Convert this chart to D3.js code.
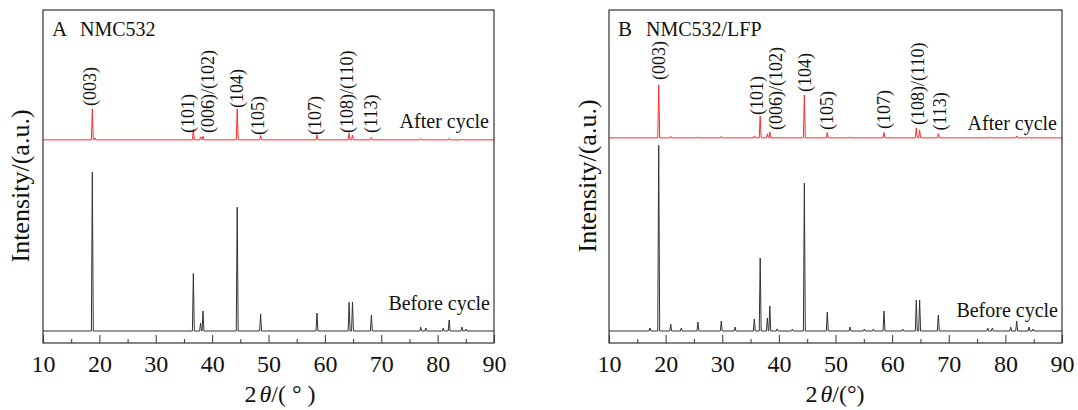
<!DOCTYPE html>
<html>
<head>
<meta charset="utf-8">
<script src="https://cdn.jsdelivr.net/npm/d3@7"></script>
<style>
  body { margin: 0; background: #fff; }
  svg text { font-family: "Liberation Serif", "Times New Roman", serif; fill: #111; }
</style>
</head>
<body>
<div id="chart"></div>
<script>
// peak lists: [2theta, intensity (a.u.)]
const nmcBefore = [
  [18.75, 47.7], [36.67, 17.3], [37.95, 2.4], [38.38, 6.0], [44.45, 37.2],
  [48.6, 5.1], [58.6, 5.4], [64.3, 8.6], [64.9, 8.7], [68.25, 4.8],
  [77.0, 1.2], [77.9, 0.9], [81.0, 0.9], [82.05, 3.3], [84.3, 1.2], [85.0, 0.6]
];
const nmcAfter = [
  [18.75, 9.3], [19.25, 0.6], [36.67, 3.2], [37.95, 0.9], [38.38, 1.1],
  [44.45, 9.3], [48.6, 1.3], [58.6, 1.5], [64.3, 2.0], [64.9, 1.5],
  [68.25, 0.75], [77.0, 0.4], [82.05, 0.45], [84.3, 0.3]
];
const lfpBefore = [
  [17.24, 0.9], [18.78, 55.8], [20.9, 2.1], [22.77, 0.9], [25.7, 2.7],
  [29.83, 3.0], [32.25, 1.2], [35.66, 3.6], [36.7, 21.9], [37.97, 3.9],
  [38.4, 7.5], [39.7, 0.6], [42.4, 0.6], [44.5, 44.4], [48.55, 5.7],
  [52.56, 1.2], [55.1, 0.6], [56.7, 0.6], [58.56, 6.0], [61.86, 0.6],
  [64.27, 9.3], [64.86, 9.3], [68.16, 4.8], [76.88, 0.9], [77.7, 0.9],
  [80.94, 1.2], [82.0, 3.0], [84.17, 1.2], [84.9, 0.6]
];
const lfpAfter = [
  [18.78, 15.9], [20.9, 0.45], [25.7, 0.3], [29.83, 0.45], [35.66, 0.6],
  [36.7, 6.6], [37.97, 1.2], [38.4, 1.8], [44.5, 12.9], [48.55, 1.65],
  [52.56, 0.3], [58.56, 1.65], [64.27, 3.0], [64.86, 2.4], [68.16, 1.3],
  [77.3, 0.3], [82.0, 0.6], [84.17, 0.3]
];

// offsets of the two stacked patterns
const nmcOffsets = { before: 3.6, after: 61.0 };
const lfpOffsets = { before: 3.6, after: 61.6 };

const hklLabels = ["(003)", "(101)", "(006)/(102)", "(104)", "(105)", "(107)", "(108)/(110)", "(113)"];
const nmcLabelPos = [[18.34, 71.2], [35.7, 63.1], [39.27, 63.1], [44.4, 70.6], [48.1, 62.5], [58.2, 62.5], [63.9, 63.1], [68.1, 63.1]];
const lfpLabelPos = [[18.78, 79.0], [36.08, 68.5], [39.5, 64.0], [44.6, 75.4], [48.45, 64.0], [58.57, 64.3], [64.6, 65.5], [68.45, 63.8]];

const majorTicks = [10, 20, 30, 40, 50, 60, 70, 80, 90];
const minorTicks = [15, 25, 35, 45, 55, 65, 75, 85];

const width = 1078, height = 410;
const svg = d3.select("#chart").append("svg")
  .attr("width", width)
  .attr("height", height);

// turn a peak list into a stick-like profile
function profile(peaks, base) {
  const pts = [[10, base]];
  peaks.forEach(p => {
    pts.push([p[0] - 0.17, base]);
    pts.push([p[0], base + p[1]]);
    pts.push([p[0] + 0.17, base]);
  });
  pts.push([90, base]);
  return pts;
}

function drawPanel(cfg) {
  const x = d3.scaleLinear().domain([10, 90]).range([cfg.left, cfg.right]);
  const y = d3.scaleLinear().domain([0, 100]).range([cfg.bottom, cfg.top]);
  const g = svg.append("g");

  const line = d3.line().x(d => x(d[0])).y(d => y(d[1]));

  g.append("path")
    .datum(profile(cfg.before, cfg.offsets.before))
    .attr("d", line)
    .attr("fill", "none")
    .attr("stroke", "#333")
    .attr("stroke-width", 1);

  g.append("path")
    .datum(profile(cfg.after, cfg.offsets.after))
    .attr("d", line)
    .attr("fill", "none")
    .attr("stroke", "#ff2b2b")
    .attr("stroke-width", 1);

  //frame
  g.append("rect")
    .attr("x", cfg.left)
    .attr("y", cfg.top)
    .attr("width", cfg.right - cfg.left)
    .attr("height", cfg.bottom - cfg.top)
    .attr("fill", "none")
    .attr("stroke", "#333")
    .attr("stroke-width", 1.2);

  //x axis, ticks pointing inward
  const xAxis = d3.axisBottom(x).tickValues(majorTicks).tickSize(-8).tickPadding(12).tickFormat(d3.format("d"));
  const ax = g.append("g")
    .attr("transform", `translate(0, ${cfg.bottom})`)
    .call(xAxis);
  ax.select(".domain").remove();
  ax.selectAll("line").attr("stroke", "#333");
  ax.selectAll("text").attr("font-size", 24).attr("fill", "#111");

  const mx = g.append("g")
    .attr("transform", `translate(0, ${cfg.bottom})`)
    .call(d3.axisBottom(x).tickValues(minorTicks).tickSize(-4).tickFormat(""));
  mx.select(".domain").remove();
  mx.selectAll("line").attr("stroke", "#333");

  //x title
  const xt = g.append("text")
    .attr("x", cfg.xTitleX)
    .attr("y", 402)
    .attr("text-anchor", "middle")
    .attr("font-size", 24);
  xt.append("tspan").text("2");
  xt.append("tspan").attr("font-style", "italic").attr("dx", 3).text("θ");
  xt.append("tspan").text(cfg.degText);

  //y title
  g.append("text")
    .attr("transform", `translate(${cfg.yTitleX}, ${cfg.yTitleY}) rotate(-90)`)
    .attr("text-anchor", "middle")
    .attr("dy", "0.35em")
    .attr("font-size", 26)
    .text("Intensity/(a.u.)");

  //panel tag
  g.append("text")
    .attr("x", cfg.left + 9)
    .attr("y", 36)
    .attr("font-size", 21)
    .text(cfg.tag);
  g.append("text")
    .attr("x", cfg.left + 37)
    .attr("y", 36)
    .attr("font-size", 20)
    .text(cfg.name);

  //series captions
  g.append("text")
    .attr("x", cfg.right - 5)
    .attr("y", cfg.afterTextY)
    .attr("text-anchor", "end")
    .attr("font-size", 20)
    .text("After cycle");
  g.append("text")
    .attr("x", cfg.right - 4)
    .attr("y", cfg.beforeTextY)
    .attr("text-anchor", "end")
    .attr("font-size", 20)
    .text("Before cycle");

  //hkl labels
  g.selectAll(".hkl")
    .data(hklLabels)
    .join("text")
    .attr("class", "hkl")
    .attr("transform", (d, i) => `translate(${x(cfg.labelPos[i][0])}, ${y(cfg.labelPos[i][1])}) rotate(-90)`)
    .attr("dy", "0.35em")
    .attr("font-size", 18)
    .text(d => d);
}

drawPanel({
  left: 43, right: 494, top: 10, bottom: 343,
  before: nmcBefore, after: nmcAfter, offsets: nmcOffsets,
  labelPos: nmcLabelPos, tag: "A", name: "NMC532",
  degText: "/( ° )", xTitleX: 280, yTitleX: 20, yTitleY: 186,
  afterTextY: 128, beforeTextY: 310
});

drawPanel({
  left: 609, right: 1062, top: 10, bottom: 343,
  before: lfpBefore, after: lfpAfter, offsets: lfpOffsets,
  labelPos: lfpLabelPos, tag: "B", name: "NMC532/LFP",
  degText: "/(°)", xTitleX: 835, yTitleX: 587, yTitleY: 176,
  afterTextY: 130, beforeTextY: 317
});
</script>
</body>
</html>
